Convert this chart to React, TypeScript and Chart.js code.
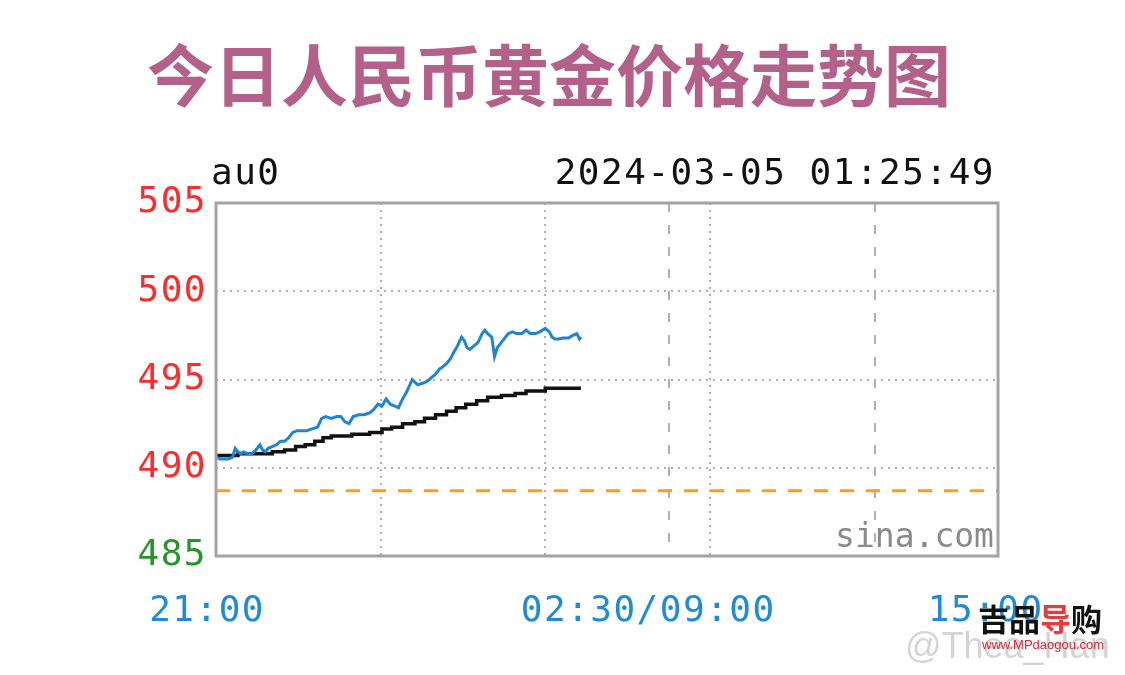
import React, { useEffect, useRef } from 'react';
import { Chart, registerables } from 'chart.js';

Chart.register(...registerables);

const TITLE = '今日人民币黄金价格走势图';
const SYMBOL = 'au0';
const TIMESTAMP = '2024-03-05 01:25:49';
const WATERMARK = 'sina.com';
const PREV_CLOSE = 488.7;
const Y_MIN = 485;
const Y_MAX = 505;
const Y_STEP = 5;
const SESSION_MINUTES = 570;

// vertical grid lines (minutes after 21:00) and whether dashed (session break)
const gridMinutes = [120, 240, 330, 360, 480];
const gridDashed = [false, false, true, false, true];

// x tick labels and where their text is anchored (minutes after 21:00)
const xTickLabels = ['21:00', '02:30/09:00', '15:00'];
const xTickAnchors = [-6.5, 315, 561];

// latest price (blue)
const priceMinutes = [
  0, 3, 6, 9, 12, 14, 16, 18, 20, 23, 26, 29, 32, 34, 36, 38, 41, 44, 47, 50,
  53, 56, 59, 62, 66, 70, 74, 77, 80, 84, 88, 91, 94, 97, 100, 104, 108, 112, 115, 118,
  121, 124, 127, 130, 133, 136, 139, 143, 147, 151, 154, 157, 160, 163, 165, 168, 171, 173, 176, 179,
  181, 183, 185, 188, 191, 194, 196, 198, 201, 203, 205, 208, 211, 213, 216, 219, 223, 226, 229, 233,
  236, 240, 243, 245, 247, 250, 253, 257, 260, 263, 265, 266,
];
const prices = [
  490.6, 490.5, 490.5, 490.5, 490.6, 491.1, 490.9, 490.8, 490.9, 490.8, 490.8, 491.0, 491.3, 491.0, 490.9, 491.1, 491.2, 491.3, 491.5, 491.5,
  491.7, 492.0, 492.1, 492.1, 492.1, 492.2, 492.3, 492.8, 492.9, 492.8, 492.9, 492.9, 492.6, 492.5, 492.9, 493.0, 493.0, 493.1, 493.3, 493.6,
  493.5, 493.9, 493.6, 493.5, 493.4, 493.9, 494.3, 495.0, 494.7, 494.8, 494.9, 495.1, 495.3, 495.6, 495.7, 495.9, 496.2, 496.5, 496.9, 497.4,
  497.2, 496.8, 496.7, 496.9, 497.1, 497.6, 497.8, 497.6, 497.4, 496.3, 496.8, 497.1, 497.4, 497.6, 497.7, 497.6, 497.6, 497.8, 497.6, 497.6,
  497.7, 497.9, 497.7, 497.4, 497.3, 497.3, 497.35, 497.35, 497.5, 497.6, 497.3, 497.4,
];

// average price (black, stepped)
const avgMinutes = [
  0, 16, 41, 50, 58, 65, 72, 78, 84, 99, 112, 121, 128, 136, 145, 152, 160, 168, 175, 182,
  190, 198, 208, 218, 226, 240, 247, 266,
];
const avgPrices = [
  490.5, 490.7, 490.8, 490.9, 491.0, 491.2, 491.3, 491.5, 491.7, 491.8, 491.9, 492.0, 492.2, 492.3, 492.5, 492.6, 492.8, 493.0, 493.2, 493.4,
  493.6, 493.8, 494.0, 494.1, 494.2, 494.35, 494.5, 494.5,
];

const MONO = '"DejaVu Sans Mono", "Liberation Mono", monospace';

const frameBox = {
  id: 'frameBox',
  beforeDraw(chart: any) {
    chart.ctx.letterSpacing = '1.5px';
  },
  afterDraw(chart: any) {
    const { ctx, chartArea } = chart;
    ctx.save();
    ctx.strokeStyle = '#a3a3a3';
    ctx.lineWidth = 3;
    ctx.strokeRect(chartArea.left, chartArea.top, chartArea.right - chartArea.left, chartArea.bottom - chartArea.top);
    ctx.restore();
  },
};

function App() {
  const ref = useRef<HTMLCanvasElement | null>(null);

  useEffect(() => {
    document.body.style.margin = '0';
    const canvas = ref.current!;
    const chart = new Chart(canvas, {
      type: 'line',
      data: {
        datasets: [
          {
            data: priceMinutes.map((m, i) => ({ x: m, y: prices[i] })),
            borderColor: '#1f84d4',
            borderWidth: 3,
            pointRadius: 0,
            tension: 0,
          },
          {
            data: avgMinutes.map((m, i) => ({ x: m, y: avgPrices[i] })),
            borderColor: '#111111',
            borderWidth: 3.5,
            pointRadius: 0,
            stepped: 'after',
          },
          {
            data: [
              { x: 0, y: PREV_CLOSE },
              { x: SESSION_MINUTES, y: PREV_CLOSE },
            ],
            borderColor: '#ff9a22',
            borderWidth: 3,
            borderDash: [14, 12],
            pointRadius: 0,
            clip: false,
          },
        ],
      },
      options: {
        animation: false,
        responsive: false,
        maintainAspectRatio: false,
        layout: { padding: { top: 203, right: 127, left: 0, bottom: 0 } },
        plugins: { legend: { display: false }, tooltip: { enabled: false }, title: { display: false } },
        scales: {
          x: {
            type: 'linear',
            min: 0,
            max: SESSION_MINUTES,
            position: 'bottom',
            afterBuildTicks: (axis: any) => {
              axis.ticks = gridMinutes.map((v) => ({ value: v }));
            },
            afterFit: (s: any) => {
              s.height = 0;
            },
            ticks: { display: false },
            grid: { color: '#b0b0b0', lineWidth: 2, drawTicks: false },
            border: {
              display: false,
              dash: (ctx: any) => (gridDashed[ctx.index] ? [9, 13] : [2, 5]),
            },
          },
          xl: {
            type: 'linear',
            min: 0,
            max: SESSION_MINUTES,
            position: 'bottom',
            afterBuildTicks: (axis: any) => {
              axis.ticks = xTickAnchors.map((v) => ({ value: v }));
            },
            afterFit: (s: any) => {
              s.height = 119;
            },
            ticks: {
              autoSkip: false,
              maxRotation: 0,
              padding: 34,
              color: '#1e8ad8',
              font: { family: MONO, size: 36 },
              callback: (_v: any, i: number) => xTickLabels[i],
            },
            grid: { display: false, drawTicks: false },
            border: { display: false },
          },
          y: {
            min: Y_MIN,
            max: Y_MAX,
            afterBuildTicks: (axis: any) => {
              const t = [];
              for (let v = Y_MIN; v <= Y_MAX; v += Y_STEP) t.push({ value: v });
              axis.ticks = t;
            },
            afterFit: (s: any) => {
              s.width = 216;
            },
            ticks: {
              padding: 9,
              color: (ctx: any) => (ctx.tick.value < PREV_CLOSE ? '#27962a' : '#ff2a2a'),
              font: { family: MONO, size: 36 },
            },
            grid: {
              color: (ctx: any) =>
                ctx.tick.value === Y_MIN || ctx.tick.value === Y_MAX ? 'rgba(0,0,0,0)' : '#b0b0b0',
              lineWidth: 2,
              drawTicks: false,
            },
            border: { display: false, dash: [2, 5] },
          },
        },
      },
      plugins: [frameBox],
    } as any);
    return () => chart.destroy();
  }, []);

  return (
    <div style={{ position: 'fixed', left: 0, top: 0, width: 1125, height: 675, background: '#fff', overflow: 'hidden' }}>
      <canvas ref={ref} width={1125} height={675} style={{ position: 'absolute', left: 0, top: 0, width: 1125, height: 675 }} />
      <div
        style={{
          position: 'absolute',
          left: 147,
          top: 38,
          fontFamily: '"Noto Sans CJK SC", sans-serif',
          fontWeight: 700,
          fontSize: 67,
          lineHeight: '67px',
          color: '#b3608b',
          whiteSpace: 'nowrap',
        }}
      >
        {TITLE}
      </div>
      <div
        style={{
          position: 'absolute',
          left: 211,
          top: 152,
          fontFamily: MONO,
          fontSize: 36,
          lineHeight: '40px',
          letterSpacing: '1.5px',
          color: '#111',
          whiteSpace: 'nowrap',
        }}
      >
        {SYMBOL}
      </div>
      <div
        style={{
          position: 'absolute',
          right: 130,
          top: 152,
          fontFamily: MONO,
          fontSize: 36,
          lineHeight: '40px',
          letterSpacing: '1.5px',
          color: '#111',
          whiteSpace: 'nowrap',
        }}
      >
        {TIMESTAMP}
      </div>
      <div
        style={{
          position: 'absolute',
          right: 131,
          top: 516,
          fontFamily: MONO,
          fontSize: 33,
          lineHeight: '40px',
          color: '#8a8a8a',
          whiteSpace: 'nowrap',
        }}
      >
        {WATERMARK}
      </div>
      <div
        style={{
          position: 'absolute',
          left: 905,
          top: 626,
          fontFamily: '"Liberation Sans", Arial, sans-serif',
          fontSize: 36,
          lineHeight: '40px',
          color: 'rgba(160,160,160,0.45)',
          whiteSpace: 'nowrap',
        }}
      >
        @Thea_Han
      </div>
      <div
        style={{
          position: 'absolute',
          left: 978,
          top: 598,
          fontFamily: '"Noto Sans CJK SC", sans-serif',
          fontWeight: 700,
          fontSize: 31,
          lineHeight: '40px',
          color: '#111',
          whiteSpace: 'nowrap',
        }}
      >
        吉品<span style={{ color: '#e83a3a' }}>导</span>购
      </div>
      <div
        style={{
          position: 'absolute',
          left: 982,
          top: 637,
          fontFamily: '"Liberation Sans", Arial, sans-serif',
          fontSize: 13,
          lineHeight: '16px',
          color: '#d8283a',
          whiteSpace: 'nowrap',
        }}
      >
        www.MPdaogou.com
      </div>
    </div>
  );
}

export default App;
